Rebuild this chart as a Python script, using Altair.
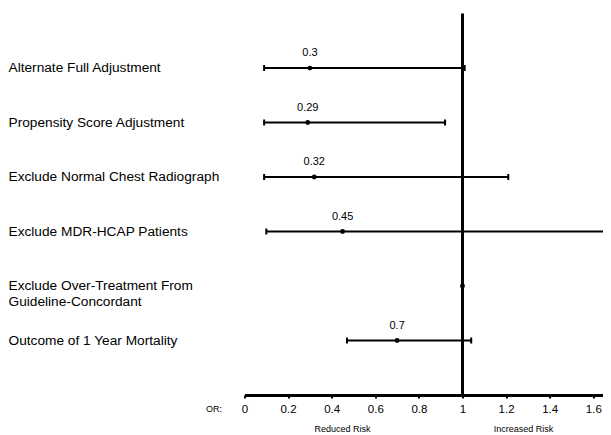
import altair as alt
import pandas as pd

labels = [
    "Alternate Full Adjustment",
    "Propensity Score Adjustment",
    "Exclude Normal Chest Radiograph",
    "Exclude MDR-HCAP Patients",
    "Exclude Over-Treatment From\nGuideline-Concordant",
    "Outcome of 1 Year Mortality",
]
rows = [1, 2, 3, 4, 5, 6]
or_vals = [0.30, 0.29, 0.32, 0.45, 1.00, 0.70]
ci_lo = [0.09, 0.09, 0.09, 0.10, None, 0.47]
ci_hi = [1.01, 0.92, 1.21, 2.00, None, 1.04]
val_labels = ["0.3", "0.29", "0.32", "0.45", "", "0.7"]
tick_values = [0, 0.2, 0.4, 0.6, 0.8, 1, 1.2, 1.4, 1.6]

df = pd.DataFrame({
    "label": labels, "row": rows, "or": or_vals,
    "lo": ci_lo, "hi": ci_hi, "vlab": val_labels,
})

FONT = "Liberation Sans"
xscale = alt.Scale(domain=[0, 1.6445], nice=False, zero=False)
yscale = alt.Scale(domain=[0, 7], reverse=True, nice=False, zero=False)

base = alt.Chart(df)

vref = alt.Chart(pd.DataFrame({"ref": [1], "y0": [0], "y1": [7]})).mark_rule(
    color="black", strokeWidth=3
).encode(
    x=alt.X("ref:Q", scale=xscale, title=None, axis=alt.Axis(
        values=tick_values, format="~g", title=None, grid=False,
        domainColor="black", domainWidth=3, tickColor="black", tickWidth=2,
        tickSize=3, labelFontSize=11.5, labelFont=FONT, labelColor="black",
        labelPadding=5, labelFlush=False, labelOverlap=False,
    )),
    y=alt.Y("y0:Q", scale=yscale, axis=None),
    y2="y1:Q",
)

valid = base.transform_filter("isValid(datum.lo)")

ci = valid.mark_rule(color="black", strokeWidth=2, clip=True).encode(
    x=alt.X("lo:Q", title=None), x2="hi:Q", y=alt.Y("row:Q", axis=None)
)
cap_lo = valid.mark_tick(color="black", orient="vertical", size=6, thickness=2, clip=True, opacity=1).encode(
    x=alt.X("lo:Q", title=None), y=alt.Y("row:Q", axis=None)
)
cap_hi = valid.mark_tick(color="black", orient="vertical", size=6, thickness=2, clip=True, opacity=1).encode(
    x=alt.X("hi:Q", title=None), y=alt.Y("row:Q", axis=None)
)
pts = base.mark_point(filled=True, size=24, color="black", opacity=1).encode(
    x=alt.X("or:Q", title=None), y=alt.Y("row:Q", axis=None)
)
vals = base.mark_text(dy=-15, fontSize=11, font=FONT, color="black").encode(
    x=alt.X("or:Q", title=None), y=alt.Y("row:Q", axis=None), text="vlab:N"
)
names = base.mark_text(align="left", baseline="middle", fontSize=13.7, font=FONT,
                       color="black", lineBreak="\n", lineHeight=16).encode(
    x=alt.value(-236), y=alt.Y("row:Q", axis=None), text="label:N"
)

notes = pd.DataFrame({"txt": ["Reduced Risk", "Increased Risk"], "pos": [0.45, 1.28]})
risk = alt.Chart(notes).mark_text(fontSize=9, font=FONT, color="black", baseline="middle").encode(
    x=alt.X("pos:Q", title=None), y=alt.value(415), text="txt:N"
)
orlab = alt.Chart(pd.DataFrame({"t": ["OR:"]})).mark_text(
    fontSize=9, font=FONT, color="black", baseline="middle"
).encode(x=alt.value(-30.5), y=alt.value(395), text="t:N")

chart = alt.layer(vref, ci, cap_lo, cap_hi, pts, vals, names, risk, orlab).properties(
    width=358.5, height=381.4,
    background="white",
    autosize=alt.AutoSizeParams(type="none"),
    padding={"left": 236.5, "top": 5.6, "right": 0, "bottom": 41},
).configure_view(stroke=None)

chart.save("out.html", embed_options={"renderer": "svg", "actions": False})
